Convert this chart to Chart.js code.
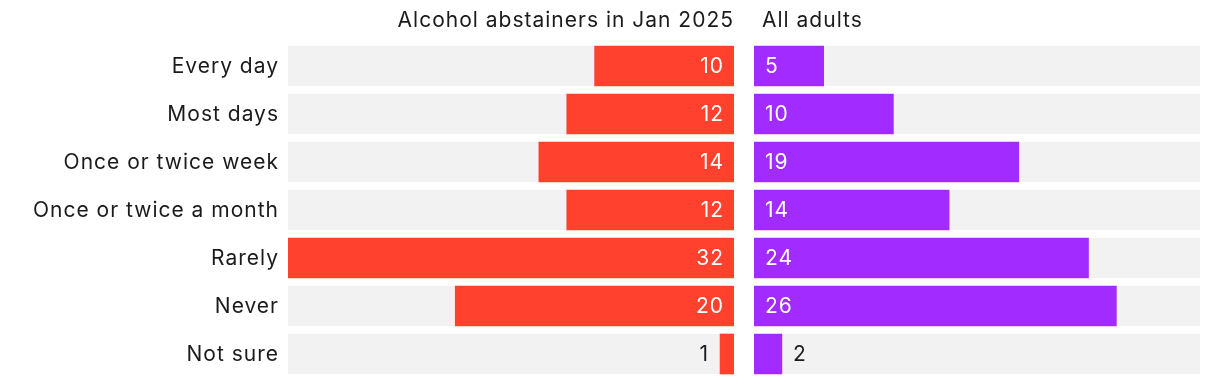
<!DOCTYPE html>
<html>
<head>
<meta charset="utf-8">
<script src="https://cdn.jsdelivr.net/npm/chart.js@4"></script>
<style>
  body { margin: 0; background: #fff; }
  #wrap { position: relative; width: 1220px; height: 384px; }
  #left { position: absolute; left: 0; top: 0; }
  #right { position: absolute; left: 754px; top: 0; }
</style>
</head>
<body>
<div id="wrap">
  <canvas id="left" width="734" height="384"></canvas>
  <canvas id="right" width="446" height="384"></canvas>
</div>
<script>
// categorias e valores (%)
const categories = ['Every day', 'Most days', 'Once or twice week', 'Once or twice a month', 'Rarely', 'Never', 'Not sure'];
const abstainers = [10, 12, 14, 12, 32, 20, 1];
const allAdults = [5, 10, 19, 14, 24, 26, 2];
const seriesTitles = ['Alcohol abstainers in Jan 2025', 'All adults'];
const xMax = 32;

const FONT = '21px Inter, "Noto Sans", sans-serif';
const TXT = '#1b1b1b';

function setText(ctx) {
  ctx.font = FONT;
  ctx.letterSpacing = '1px';
  ctx.textBaseline = 'middle';
}

// fundo cinza de cada linha
const rowBg = {
  id: 'rowBg',
  beforeDatasetsDraw(chart) {
    const { ctx, chartArea, scales } = chart;
    ctx.save();
    ctx.fillStyle = '#f2f2f2';
    categories.forEach((c, i) => {
      const y = scales.y.getPixelForValue(i);
      ctx.fillRect(chartArea.left, y - 20, chartArea.right - chartArea.left, 40);
    });
    ctx.restore();
  }
};

// rótulos: categorias, valores e título
const labels = {
  id: 'labels',
  afterDatasetsDraw(chart, args, opts) {
    const { ctx, chartArea, scales } = chart;
    const meta = chart.getDatasetMeta(0);
    ctx.save();
    setText(ctx);
    meta.data.forEach((bar, i) => {
      const v = chart.data.datasets[0].data[i];
      const inside = v >= 3;
      const y = bar.y + 1;
      ctx.fillStyle = inside ? '#fff' : TXT;
      if (opts.reverse) {
        ctx.textAlign = 'right';
        ctx.fillText(v, inside ? bar.base - 10 : bar.x - 11, y);
      } else {
        ctx.textAlign = 'left';
        ctx.fillText(v, inside ? bar.base + 11 : bar.x + 11, y);
      }
    });
    ctx.fillStyle = TXT;
    if (opts.reverse) {
      ctx.textAlign = 'right';
      categories.forEach((c, i) => {
        ctx.fillText(c, chartArea.left - 9, scales.y.getPixelForValue(i) + 1);
      });
      ctx.fillText(opts.title, chartArea.right, 21);
    } else {
      ctx.textAlign = 'left';
      ctx.fillText(opts.title, chartArea.left + 8, 21);
    }
    ctx.restore();
  }
};

function makeChart(el, values, color, reverse, title) {
  return new Chart(el.getContext('2d'), {
    type: 'bar',
    data: {
      labels: categories,
      datasets: [{
        data: values,
        backgroundColor: color,
        barThickness: 40,
        borderWidth: 0
      }]
    },
    options: {
      indexAxis: 'y',
      responsive: false,
      animation: false,
      layout: { padding: { top: 42, bottom: 6, left: reverse ? 288 : 0, right: 0 } },
      scales: {
        x: { display: false, min: 0, max: xMax, reverse: reverse },
        y: { display: false }
      },
      plugins: {
        legend: { display: false },
        tooltip: { enabled: false },
        labels: { reverse: reverse, title: title }
      }
    },
    plugins: [rowBg, labels]
  });
}

makeChart(document.getElementById('left'), abstainers, '#ff412e', true, seriesTitles[0]);
makeChart(document.getElementById('right'), allAdults, '#a22cff', false, seriesTitles[1]);
</script>
</body>
</html>
